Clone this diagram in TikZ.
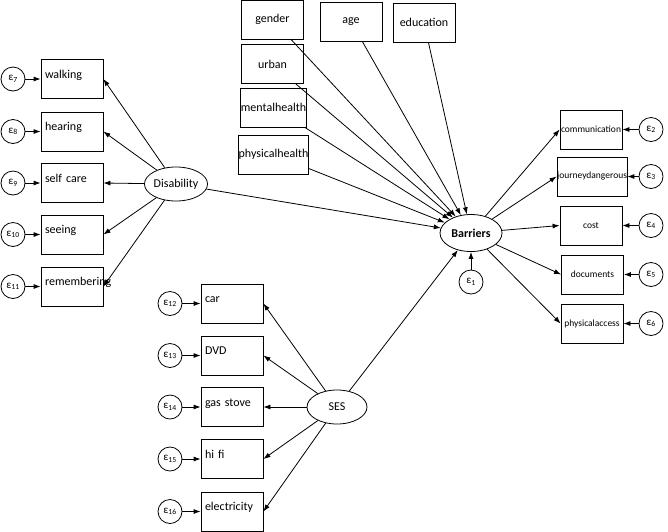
\documentclass[tikz,border=0pt]{standalone}
\usepackage{fontspec}
\setmainfont{Carlito}
\usetikzlibrary{shapes.geometric,arrows.meta}

\newcommand{\errlab}[1]{ε\textsubscript{#1}}

\begin{document}
\begin{tikzpicture}[x=1pt, y=-1pt, >={Latex[length=7pt,width=5pt]}, line width=0.8pt,
  every node/.style={font=\fontsize{12}{14}\selectfont},
  obs/.style={draw, minimum width=62pt, minimum height=39pt, inner sep=0pt},
  obsleft/.style={obs, text width=54pt, align=left, text height=9pt, text depth=11pt},
  obsright/.style={obs, font=\fontsize{9.5}{11}\selectfont},
  latent/.style={draw, ellipse, inner sep=0pt, minimum width=60pt, minimum height=34pt},
  err/.style={draw, circle, inner sep=0pt, minimum size=24pt, font=\fontsize{11}{13}\selectfont}]
\useasboundingbox (0,0) rectangle (668,531);

% Latent variables
\node[latent] (dis) at (176,184) {Disability};
\node[latent, minimum width=62pt, minimum height=37pt, font=\fontsize{12}{14}\selectfont\bfseries] (bar) at (471,233) {Barriers};
\node[latent] (ses) at (337,407) {SES};

% Disability indicators
\foreach \name/\txt/\y/\e in {walk/walking/79/7, hear/hearing/131.5/8, self/self care/183/9, see/seeing/234.5/10, rem/remembering/286.5/11} {
  \node[obsleft] (\name) at (72,\y) {\txt};
  \node[err] (e\e) at (13,\y) {\errlab{\e}};
  \draw[->] (dis) -- (\name.east);
  \draw[->] (e\e) -- (\name);
}

% SES indicators
\foreach \name/\txt/\y/\e in {car/car/303.5/12, dvd/DVD/355.5/13, gas/gas stove/407/14, hifi/hi fi/459/15, elec/electricity/511.5/16} {
  \node[obsleft] (\name) at (232,\y) {\txt};
  \node[err] (e\e) at (170,\y) {\errlab{\e}};
  \draw[->] (ses) -- (\name.east);
  \draw[->] (e\e) -- (\name);
}

% Covariates
\node[obs] (gender) at (272.5,19.5) {gender};
\node[obs] (age) at (351,21.5) {age};
\node[obs] (edu) at (424,22.5) {education};
\node[obs] (urban) at (272.5,64) {urban};
\node[obs] (mental) at (273.5,107.5) {mentalhealth};
\node[obs] (physical) at (273.5,154.5) {physicalhealth};
\foreach \name in {gender, age, edu, urban, mental, physical} {
  \draw[->] (\name) -- (bar);
}
\draw[->] (dis) -- (bar);
\draw[->] (ses) -- (bar);

% Barriers indicators
\foreach \name/\txt/\x/\y/\e in {comm/communication/591/129.5/2, jour/journeydangerous/592/176.5/3, cost/cost/591/225.5/4, doc/documents/592.5/274.5/5, phys/physicalaccess/592/323.5/6} {
  \node[obsright] (\name) at (\x,\y) {\txt};
  \node[err] (e\e) at (651,\y) {\errlab{\e}};
  \draw[->] (bar) -- (\name.west);
  \draw[->] (e\e) -- (\name);
}

\node[err] (e1) at (471,282) {\errlab{1}};
\draw[->] (e1) -- (bar);
\end{tikzpicture}
\end{document}
